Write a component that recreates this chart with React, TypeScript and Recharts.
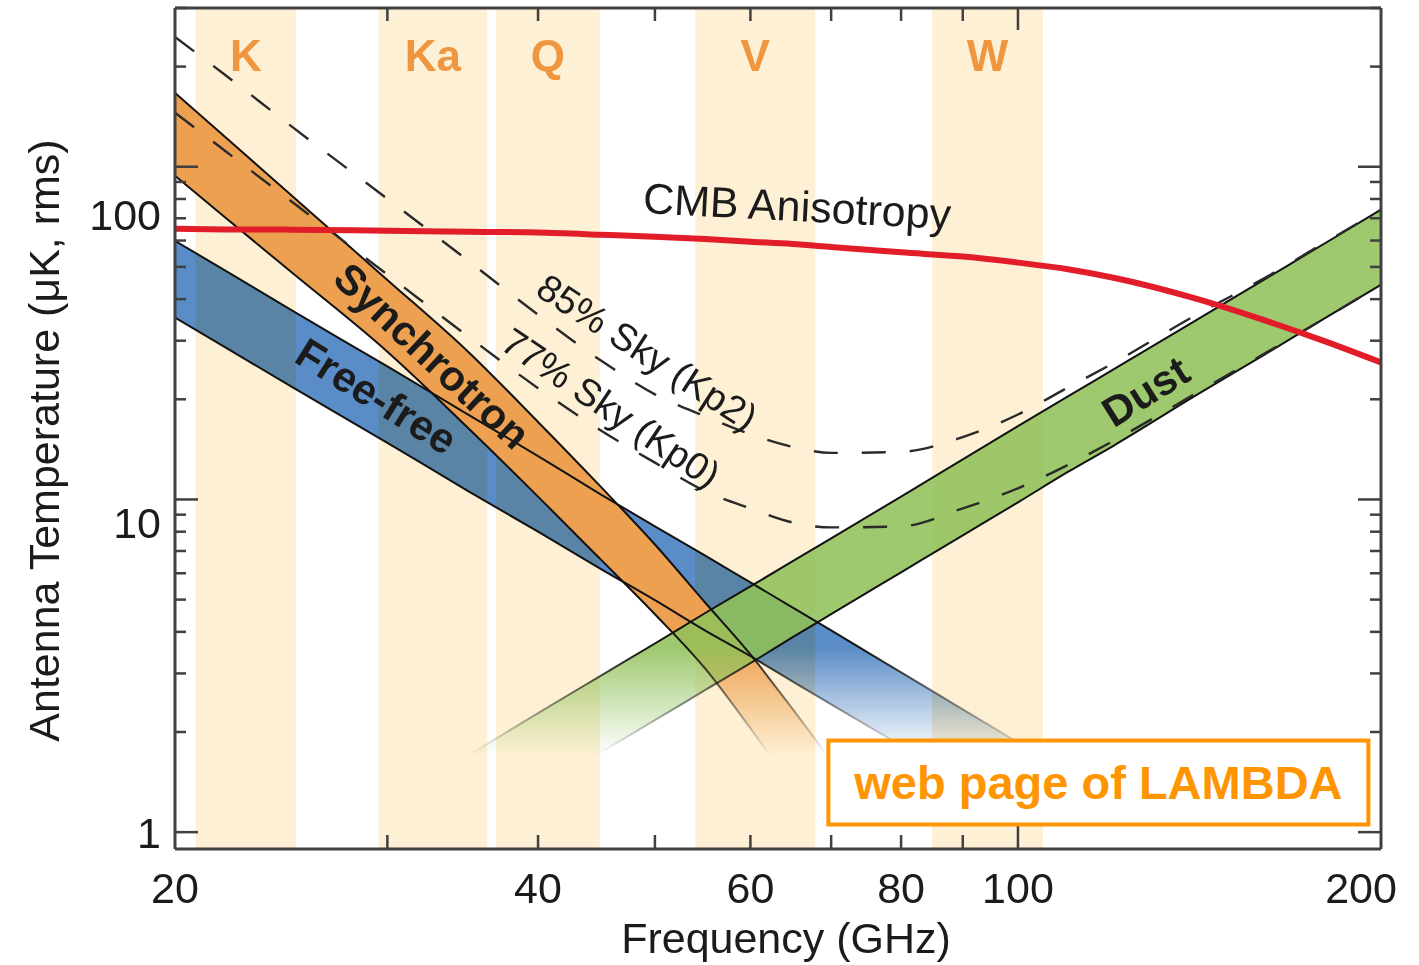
import {
  Area,
  ComposedChart,
  Line,
  ReferenceArea,
  ReferenceDot,
  XAxis,
  YAxis,
} from "recharts";

// frequency grid (GHz) shared by every curve
const FREQ = [20, 22, 25, 30, 35, 40, 45, 50, 55, 60, 65, 70, 80, 90, 100, 110, 120, 140, 160, 180, 200];

// antenna temperature (uK, rms)
const CMB = [65.1, 64.8, 64.7, 64.2, 63.8, 63.4, 62.5, 61.6, 60.6, 59.5, 58.6, 57.4, 55.3, 53.7, 51.5, 49.2, 46.4, 40.3, 34.6, 29.8, 25.8];

const SYNC_HI = [166.8, 123, 81.8, 45.7, 27.8, 17.1, 11.0, 7.32, 4.91, 3.42, 2.35, 1.64, null, null, null, null, null, null, null, null, null];
const SYNC_LO = [94.0, 70.5, 48.1, 27.8, 16.4, 10.2, 6.65, 4.52, 3.11, 2.05, 1.36, 0.93, null, null, null, null, null, null, null, null, null];

const FF_HI = [59.9, 48.8, 37.0, 25.1, 18.0, 13.5, 10.4, 8.3, 6.79, 5.63, 4.74, 4.04, 3.02, 2.34, 1.86, 1.52, null, null, null, null, null];
const FF_LO = [35.2, 28.7, 21.8, 14.8, 10.6, 8.0, 6.21, 4.98, 4.04, 3.38, 2.84, 2.42, 1.82, 1.41, 1.13, 0.92, null, null, null, null, null];

const DUST_HI = [null, null, null, null, 1.7, 2.28, 2.94, 3.69, 4.55, 5.48, 6.51, 7.64, 10.2, 13.2, 16.6, 20.4, 24.6, 34.3, 45.8, 59.1, 74.3];
const DUST_LO = [null, null, null, null, 1.0, 1.34, 1.73, 2.17, 2.67, 3.22, 3.85, 4.52, 6.04, 7.8, 9.8, 12.1, 14.5, 20.4, 27.2, 35.2, 44.2];

const KP2 = [245.6, 189, 132, 80.1, 52.2, 35.9, 26.3, 20.7, 17.8, 15.7, 14.4, 13.8, 13.9, 15.4, 18.0, 21.7, 25.7, 35.6, 46.2, 59.4, 74.3];
const KP0 = [145.3, 111.7, 78.5, 47.4, 30.9, 21.6, 16.2, 12.9, 10.6, 9.4, 8.53, 8.24, 8.3, 9.4, 10.8, 12.7, 15.0, 20.7, 27.4, 35.2, 44.2];

// WMAP frequency bands (GHz)
const BAND_NAMES = ["K", "Ka", "Q", "V", "W"];
const BAND_LO = [20.8, 29.5, 36.9, 54.0, 84.9];
const BAND_HI = [25.2, 36.3, 45.0, 67.9, 104.9];

// in-plot annotations, anchored in data units
const NOTE_TEXT = ["CMB Anisotropy", "85% Sky (Kp2)", "77% Sky (Kp0)", "Synchrotron", "Free-free", "Dust"];
const NOTE_FREQ = [65.6, 49.3, 46.0, 32.7, 29.4, 127.5];
const NOTE_TEMP = [76.4, 27.8, 18.9, 27.1, 20.5, 21.2];

const SOURCE_FREQ = 116.6;
const SOURCE_TEMP = 1.41;

// axis ticks
const X_TICKS = [20, 30, 40, 50, 60, 70, 80, 90, 100, 200];
const X_LABELED = [20, 40, 60, 80, 100, 200];
const TOP_TICKS = [30, 40, 50, 60, 70, 80, 90, 100];
const Y_TICKS = [1, 2, 3, 4, 5, 6, 7, 8, 9, 10, 20, 30, 40, 50, 60, 70, 80, 90, 100, 200, 300];
const Y_MAJOR = [1, 10, 100];

const rows = FREQ.map((f, i) => ({
  f,
  cmb: CMB[i],
  kp2: KP2[i],
  kp0: KP0[i],
  syncHi: SYNC_HI[i],
  syncLo: SYNC_LO[i],
  sync: SYNC_HI[i] != null ? [SYNC_LO[i], SYNC_HI[i]] : null,
  ffHi: FF_HI[i],
  ffLo: FF_LO[i],
  ff: FF_HI[i] != null ? [FF_LO[i], FF_HI[i]] : null,
  dustHi: DUST_HI[i],
  dustLo: DUST_LO[i],
  dust: DUST_HI[i] != null ? [DUST_LO[i], DUST_HI[i]] : null,
}));

// layout / styling
const W = 1419;
const H = 965;
const MARGIN = { top: 6, right: 36, bottom: 0, left: 0 };
const Y_AXIS_W = 175;
const X_AXIS_H = 116;
const EDGE_AXIS = 2; // thickness reserved for the top / right frame axes
const X_DOMAIN: [number, number] = [20, 200];
const Y_DOMAIN: [number, number] = [0.89, 300];

const FONT = '"Liberation Sans", Arial, Helvetica, sans-serif';
const INK = "#1b1b1b";
const AXIS = "#404040";
const ORANGE = "#eda150";
const BLUE = "#5a8cc7";
const GREEN = "#90c15a";
const RED = "#e11d2a";
const BAND_FILL = "#fdf0d4";
const BAND_TEXT = "#ef9640";
const LAMBDA = "#ff9500";

const PLOT_TOP = MARGIN.top + EDGE_AXIS;
const PLOT_H = H - PLOT_TOP - MARGIN.bottom - X_AXIS_H;
const yPix = (v: number) =>
  PLOT_TOP +
  (PLOT_H * (Math.log10(Y_DOMAIN[1]) - Math.log10(v))) /
    (Math.log10(Y_DOMAIN[1]) - Math.log10(Y_DOMAIN[0]));

// the foreground bands fade out below ~3.6 uK
const FADE_Y0 = yPix(3.6);
const FADE_Y1 = yPix(1.7);

const NOTE_STYLE = [
  { angle: 3, size: 43, weight: 400 },
  { angle: 33, size: 38, weight: 400 },
  { angle: 34, size: 38, weight: 400 },
  { angle: 43, size: 42, weight: 700 },
  { angle: 32, size: 42, weight: 700 },
  { angle: -32, size: 42, weight: 700 },
];

const Y_LABEL_NUDGE: Record<number, number> = { 1: 0, 10: 23, 100: 48 };
const X_LABEL_NUDGE: Record<number, number> = { 200: -20 };

function Fade({ id, color }: { id: string; color: string }) {
  return (
    <linearGradient id={id} gradientUnits="userSpaceOnUse" x1={0} x2={0} y1={FADE_Y0} y2={FADE_Y1}>
      <stop offset="0" stopColor={color} stopOpacity={1} />
      <stop offset="0.5" stopColor={color} stopOpacity={0.5} />
      <stop offset="1" stopColor={color} stopOpacity={0} />
    </linearGradient>
  );
}

function LeftTick({ x, y, payload }: any) {
  const v = payload.value;
  const major = Y_MAJOR.includes(v);
  return (
    <g>
      <line x1={x} x2={x + (major ? 23 : 11)} y1={y} y2={y} stroke={AXIS} strokeWidth={2.5} />
      {major && (
        <text
          x={x - 14}
          y={y + (Y_LABEL_NUDGE[v] ?? 0)}
          dy="0.36em"
          textAnchor="end"
          fontSize={43}
          fontFamily={FONT}
          fill={INK}
        >
          {v}
        </text>
      )}
    </g>
  );
}

function RightTick({ x, y, payload }: any) {
  const major = Y_MAJOR.includes(payload.value);
  return <line x1={x} x2={x - (major ? 23 : 11)} y1={y} y2={y} stroke={AXIS} strokeWidth={2.5} />;
}

function BottomTick({ x, y, payload }: any) {
  const v = payload.value;
  const edge = v === X_DOMAIN[0] || v === X_DOMAIN[1];
  return (
    <g>
      {!edge && <line x1={x} x2={x} y1={y} y2={y - (v === 100 ? 24 : 14)} stroke={AXIS} strokeWidth={2.5} />}
      {X_LABELED.includes(v) && (
        <text
          x={x + (X_LABEL_NUDGE[v] ?? 0)}
          y={y + 54}
          textAnchor="middle"
          fontSize={43}
          fontFamily={FONT}
          fill={INK}
        >
          {v}
        </text>
      )}
    </g>
  );
}

function TopTick({ x, y, payload }: any) {
  return (
    <line x1={x} x2={x} y1={y} y2={y + (payload.value === 100 ? 22 : 13)} stroke={AXIS} strokeWidth={2.5} />
  );
}

function FreqTitle({ viewBox }: any) {
  return (
    <text
      x={viewBox.x + viewBox.width / 2 + 8}
      y={viewBox.y + 104}
      textAnchor="middle"
      fontSize={43}
      fontFamily={FONT}
      fill={INK}
    >
      Frequency (GHz)
    </text>
  );
}

function TempTitle({ viewBox }: any) {
  const cx = viewBox.x + 59;
  const cy = viewBox.y + viewBox.height / 2 + 12;
  return (
    <text
      x={cx}
      y={cy}
      textAnchor="middle"
      transform={`rotate(-90 ${cx} ${cy})`}
      fontSize={43}
      fontFamily={FONT}
      fill={INK}
    >
      Antenna Temperature (μK, rms)
    </text>
  );
}

function noteShape(i: number) {
  const s = NOTE_STYLE[i];
  return ({ cx, cy }: any) => (
    <text
      x={cx}
      y={cy}
      dy="0.36em"
      textAnchor="middle"
      transform={`rotate(${s.angle} ${cx} ${cy})`}
      fontSize={s.size}
      fontWeight={s.weight}
      fontFamily={FONT}
      fill={INK}
    >
      {NOTE_TEXT[i]}
    </text>
  );
}

function SourceBox({ cx, cy }: any) {
  return (
    <g>
      <rect x={cx - 270} y={cy - 42} width={540} height={84} fill="#fff" stroke={LAMBDA} strokeWidth={4} />
      <text
        x={cx}
        y={cy}
        dy="0.36em"
        textAnchor="middle"
        fontSize={47}
        fontWeight={700}
        fontFamily={FONT}
        fill={LAMBDA}
      >
        web page of LAMBDA
      </text>
    </g>
  );
}

export default function App() {
  return (
    <div style={{ position: "absolute", left: 0, top: 0, width: W, height: H, background: "#fff" }}>
      <style>{`.ff-band, .ff-band path { mix-blend-mode: multiply; }`}</style>
      <ComposedChart width={W} height={H} data={rows} margin={MARGIN}>
        <defs>
          <Fade id="fadeSync" color={ORANGE} />
          <Fade id="fadeFF" color={BLUE} />
          <Fade id="fadeDust" color={GREEN} />
          <Fade id="fadeInk" color="#111111" />
        </defs>

        <XAxis
          dataKey="f"
          type="number"
          scale="log"
          domain={X_DOMAIN}
          allowDataOverflow
          ticks={X_TICKS}
          interval={0}
          tickSize={0}
          tickMargin={0}
          tickLine={false}
          tick={<BottomTick />}
          height={X_AXIS_H}
          axisLine={{ stroke: AXIS, strokeWidth: 3 }}
          label={{ content: FreqTitle }}
        />
        <XAxis
          xAxisId="top"
          orientation="top"
          dataKey="f"
          type="number"
          scale="log"
          domain={X_DOMAIN}
          allowDataOverflow
          ticks={TOP_TICKS}
          interval={0}
          tickSize={0}
          tickMargin={0}
          tickLine={false}
          tick={<TopTick />}
          height={EDGE_AXIS}
          axisLine={{ stroke: AXIS, strokeWidth: 3 }}
        />
        <YAxis
          type="number"
          scale="log"
          domain={Y_DOMAIN}
          allowDataOverflow
          ticks={Y_TICKS}
          interval={0}
          tickSize={0}
          tickMargin={0}
          tickLine={false}
          tick={<LeftTick />}
          width={Y_AXIS_W}
          axisLine={{ stroke: AXIS, strokeWidth: 3 }}
          label={{ content: TempTitle }}
        />
        <YAxis
          yAxisId="right"
          orientation="right"
          type="number"
          scale="log"
          domain={Y_DOMAIN}
          allowDataOverflow
          ticks={Y_TICKS}
          interval={0}
          tickSize={0}
          tickMargin={0}
          tickLine={false}
          tick={<RightTick />}
          width={EDGE_AXIS}
          axisLine={{ stroke: AXIS, strokeWidth: 3 }}
        />

        {BAND_NAMES.map((name, i) => (
          <ReferenceArea
            key={name}
            x1={BAND_LO[i]}
            x2={BAND_HI[i]}
            fill={BAND_FILL}
            fillOpacity={1}
            stroke="none"
            zIndex={-10}
            label={{
              value: name,
              position: "insideTop",
              offset: 32,
              fill: BAND_TEXT,
              fontSize: 44,
              fontWeight: 700,
              fontFamily: FONT,
            }}
          />
        ))}

        <Area
          className="ff-band"
          dataKey="ff"
          type="monotone"
          fill="url(#fadeFF)"
          fillOpacity={1}
          stroke="none"
          isAnimationActive={false}
          zIndex={100}
        />
        <Area
          dataKey="sync"
          type="monotone"
          fill="url(#fadeSync)"
          fillOpacity={1}
          stroke="none"
          isAnimationActive={false}
          zIndex={101}
        />
        <Area
          dataKey="dust"
          type="monotone"
          fill="url(#fadeDust)"
          fillOpacity={0.88}
          stroke="none"
          isAnimationActive={false}
          zIndex={102}
        />

        {["ffHi", "ffLo", "syncHi", "syncLo", "dustHi", "dustLo"].map((k) => (
          <Line
            key={k}
            dataKey={k}
            type="monotone"
            stroke="url(#fadeInk)"
            strokeWidth={2}
            dot={false}
            activeDot={false}
            isAnimationActive={false}
            zIndex={400}
          />
        ))}

        <Line
          dataKey="kp2"
          type="monotone"
          stroke="#2a2a2a"
          strokeWidth={2.4}
          strokeDasharray="24 24"
          dot={false}
          activeDot={false}
          isAnimationActive={false}
          zIndex={410}
        />
        <Line
          dataKey="kp0"
          type="monotone"
          stroke="#2a2a2a"
          strokeWidth={2.4}
          strokeDasharray="24 24"
          dot={false}
          activeDot={false}
          isAnimationActive={false}
          zIndex={410}
        />
        <Line
          dataKey="cmb"
          type="monotone"
          stroke={RED}
          strokeWidth={6}
          dot={false}
          activeDot={false}
          isAnimationActive={false}
          zIndex={420}
        />
        <Line
          xAxisId="top"
          yAxisId="right"
          dataKey="cmb"
          stroke="none"
          dot={false}
          activeDot={false}
          legendType="none"
          isAnimationActive={false}
        />

        {NOTE_TEXT.map((t, i) => (
          <ReferenceDot
            key={t}
            x={NOTE_FREQ[i]}
            y={NOTE_TEMP[i]}
            r={1}
            ifOverflow="visible"
            shape={noteShape(i)}
            zIndex={2100}
          />
        ))}
        <ReferenceDot
          x={SOURCE_FREQ}
          y={SOURCE_TEMP}
          r={1}
          ifOverflow="visible"
          shape={<SourceBox />}
          zIndex={2200}
        />
      </ComposedChart>
    </div>
  );
}
